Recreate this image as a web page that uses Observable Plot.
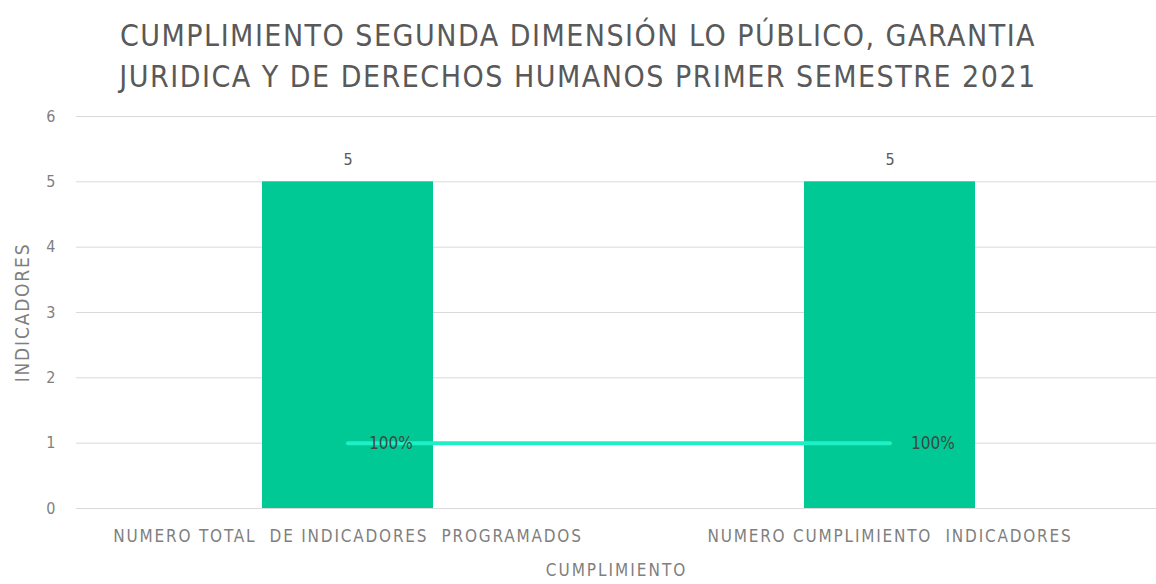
<!DOCTYPE html>
<html><head><meta charset="utf-8">
<script src="https://cdn.jsdelivr.net/npm/d3@7"></script>
<script src="https://cdn.jsdelivr.net/npm/@observablehq/plot@0.6"></script>
<style>
html,body{margin:0;padding:0;background:#fff;}
body{width:1156px;height:584px;overflow:hidden;font-family:"Liberation Sans Narrow","DejaVu Sans Condensed",sans-serif;}
#title{height:100px;box-sizing:border-box;padding-top:15px;text-align:center;font-size:30px;line-height:41px;color:#595959;letter-spacing:1.5px;white-space:nowrap;}
g[aria-label="x-axis tick label"] text{letter-spacing:1.8px;}
g[aria-label="x-axis label"] text{letter-spacing:2px;}
g[aria-label="y-axis label"] text{letter-spacing:1.8px;}
g[aria-label="pct-labels"] text{letter-spacing:1.5px;}
</style></head><body>
<div id="title">CUMPLIMIENTO SEGUNDA DIMENSIÓN LO PÚBLICO, GARANTIA<br>JURIDICA Y DE DERECHOS HUMANOS PRIMER SEMESTRE 2021</div>
<div id="chart"></div>
<script>
const categories = ["NUMERO TOTAL  DE INDICADORES  PROGRAMADOS", "NUMERO CUMPLIMIENTO  INDICADORES"];
const indicadores = [5, 5];
const cumplimiento = [1, 1];
const cumplimientoLabels = ["100%", "100%"];
const yTicks = [0, 1, 2, 3, 4, 5, 6];
const xLabel = "CUMPLIMIENTO";
const yLabel = "INDICADORES";

const data = categories.map((c, i) => ({cat: c, value: indicadores[i], pct: cumplimiento[i], pctLabel: cumplimientoLabels[i]}));
const font = "'Liberation Sans Narrow','DejaVu Sans Condensed',sans-serif";

const chart = Plot.plot({
  width: 1156,
  height: 484,
  marginLeft: 76,
  marginRight: 0,
  marginTop: 16,
  marginBottom: 76,
  style: {fontFamily: font, fontSize: "14px", color: "#7f7f7f", background: "#fff", overflow: "visible"},
  x: {domain: categories, range: [76, 1161], paddingInner: 0.685, paddingOuter: 0.3425},
  y: {domain: [0, 6]},
  marks: [
    Plot.gridY(yTicks, {stroke: "#d9d9d9", strokeOpacity: 1, strokeWidth: 1}),
    Plot.barY(data, {x: "cat", y: "value", fill: "#00c995"}),
    Plot.text(data, {x: "cat", y: "value", text: d => String(d.value), dy: -22, fill: "#595959", fontSize: 16}),
    Plot.lineY(data, {x: "cat", y: "pct", stroke: "#1ef0c6", strokeWidth: 4}),
    Plot.text(data, {x: "cat", y: "pct", text: "pctLabel", textAnchor: "start", dx: 21, fill: "#3a4a44", fontSize: 17, ariaLabel: "pct-labels"}),
    Plot.axisY({ticks: yTicks, tickFormat: d => String(d), tickSize: 0, tickPadding: 21, fontSize: 16, label: yLabel, labelAnchor: "center", labelArrow: "none", labelOffset: 61, fontSize: 16}),
    Plot.axisX({tickSize: 0, tickPadding: 21, fontSize: 17, label: xLabel, labelAnchor: "center", labelArrow: "none", labelOffset: 67})
  ]
});
chart.querySelectorAll('g[aria-label="y-axis label"] text').forEach(t => t.setAttribute("font-size", 19));
document.getElementById("chart").appendChild(chart);
</script>
</body></html>
